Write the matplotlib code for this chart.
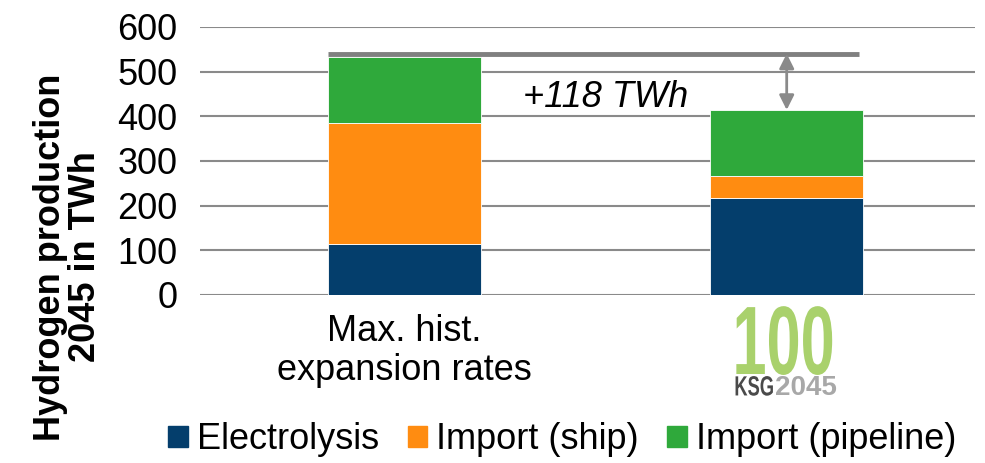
import matplotlib
matplotlib.use("Agg")
import matplotlib.pyplot as plt
from matplotlib.patches import Patch
from matplotlib.patheffects import AbstractPathEffect
from matplotlib.transforms import Affine2D
import numpy as np

plt.rcParams['font.family'] = ['Liberation Sans', 'DejaVu Sans']

# hydrogen supply 2045 (TWh)
scenarios = ["Max. hist.\nexpansion rates", ""]
electrolysis = [115, 218]
import_ship = [270, 48]
import_pipeline = [147, 148]
ref_level = 540
gap_label = "+118 TWh"

c_elec = "#043e6c"
c_ship = "#ff8c11"
c_pipe = "#2fa93b"


class Squeeze(AbstractPathEffect):
    """Narrow the glyphs horizontally around a fixed display x."""

    def __init__(self, sx, anchor):
        super().__init__()
        self.sx = sx
        self.anchor = anchor

    def draw_path(self, renderer, gc, tpath, affine, rgbFace=None):
        cx = self.anchor()
        squeeze = Affine2D().translate(-cx, 0).scale(self.sx, 1).translate(cx, 0)
        renderer.draw_path(gc, tpath, affine + squeeze, rgbFace)


x = np.arange(len(scenarios))
elec = np.array(electrolysis)
ship = np.array(import_ship)
pipe = np.array(import_pipeline)
totals = elec + ship + pipe

fig = plt.figure(figsize=(9.85, 4.63), dpi=100)
ax = fig.add_axes([0.203, 0.363, 0.787, 0.579])

w = 0.4
ax.bar(x, elec, w, color=c_elec, edgecolor="white", linewidth=0.6, zorder=3)
ax.bar(x, ship, w, bottom=elec, color=c_ship, edgecolor="white", linewidth=0.6, zorder=3)
ax.bar(x, pipe, w, bottom=elec + ship, color=c_pipe, edgecolor="white", linewidth=0.6, zorder=3)

ax.set_ylim(0, 600)
ax.set_xlim(-0.535, 1.493)
ax.set_yticks(np.arange(0, 601, 100))
ax.yaxis.grid(True, color="#8a8a8a", linewidth=1.5, zorder=0)
ax.set_axisbelow(True)
for s in ax.spines.values():
    s.set_visible(False)
ax.tick_params(axis="y", length=0, pad=16, labelsize=26)
ax.tick_params(axis="x", length=0, pad=14, labelsize=26)
ax.set_xticks(x)
ax.set_xticklabels(scenarios, linespacing=1.15)

# reference line at the higher total and the gap arrow
ax.plot([-0.2, 1.19], [ref_level, ref_level], color="#808080", linewidth=3.5,
        solid_capstyle="butt", zorder=4)
ax.annotate("", xy=(1.0, totals[1]), xytext=(1.0, ref_level),
            arrowprops=dict(arrowstyle="<|-|>", color="#8a8a8a", lw=2,
                            mutation_scale=22, shrinkA=0, shrinkB=0), zorder=5)
ax.text(0.525, 441, gap_label, fontsize=26, style="italic", ha="center", va="center")

# KSG logo under the second bar
tr = ax.get_xaxis_transform()
x_100 = 0.992
x_ksg = 0.967
ax.text(x_100, -0.295, "100", transform=tr, ha="center", va="baseline", fontsize=70,
        fontweight="bold", color="#a9d16c", clip_on=False,
        path_effects=[Squeeze(0.63, lambda: tr.transform((x_100, 0))[0])])
ax.text(x_ksg, -0.375, "KSG", transform=tr, ha="right", va="baseline", fontsize=20,
        fontweight="bold", color="#4a4a4a", clip_on=False,
        path_effects=[Squeeze(0.66, lambda: tr.transform((x_ksg, 0))[0])])
ax.text(x_ksg + 0.003, -0.375, "2045", transform=tr, ha="left", va="baseline",
        fontsize=20, fontweight="bold", color="#a8a8a8", clip_on=False)

fig.text(0.069, 0.445, "Hydrogen production\n2045 in TWh", rotation=90,
         ha="center", va="center", fontsize=26, fontweight="bold",
         multialignment="center", linespacing=1.0)

handles = [Patch(color=c_elec, label="Electrolysis"),
           Patch(color=c_ship, label="Import (ship)"),
           Patch(color=c_pipe, label="Import (pipeline)")]
fig.legend(handles=handles, loc="center", bbox_to_anchor=(0.571, 0.05), ncol=3,
           frameon=False, fontsize=26, handlelength=0.55, handleheight=0.55,
           handletextpad=0.25, columnspacing=0.78, borderpad=0)

fig.savefig("out.png", dpi=100)
